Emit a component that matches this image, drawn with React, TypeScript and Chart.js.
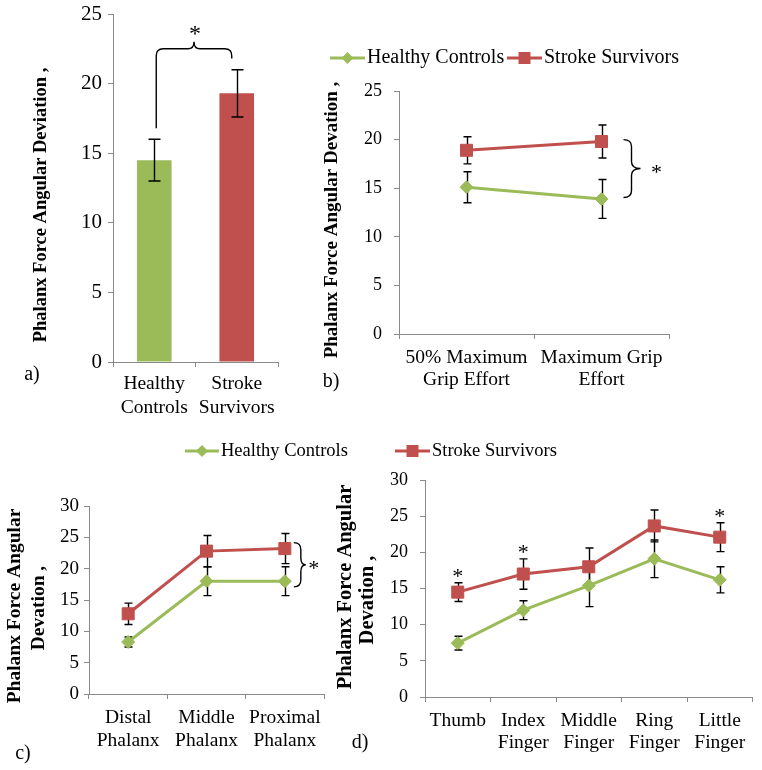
import React, { useEffect, useRef } from "react";
import { Chart, registerables } from "chart.js";
Chart.register(...registerables);

// ---------- data ----------
const barCategories = [["Healthy", "Controls"], ["Stroke", "Survivors"]];
const barValues = [14.5, 19.3];
const barErrors = [1.5, 1.7];

const gripCategories = [["50% Maximum", "Grip Effort"], ["Maximum Grip", "Effort"]];
const gripHealthy = [15.1, 13.9];
const gripHealthyErr = [1.6, 2.0];
const gripStroke = [18.9, 19.8];
const gripStrokeErr = [1.4, 1.7];

const phalanxCategories = [["Distal", "Phalanx"], ["Middle", "Phalanx"], ["Proximal", "Phalanx"]];
const phalanxHealthy = [8.3, 18.0, 18.0];
const phalanxHealthyErr = [0.8, 2.3, 2.3];
const phalanxStroke = [12.8, 22.8, 23.2];
const phalanxStrokeErr = [1.7, 2.5, 2.4];

const fingerCategories = [["Thumb"], ["Index", "Finger"], ["Middle", "Finger"], ["Ring", "Finger"], ["Little", "Finger"]];
const fingerHealthy = [7.45, 12.0, 15.4, 19.1, 16.2];
const fingerHealthyErr = [0.95, 1.3, 2.9, 2.6, 1.8];
const fingerStroke = [14.5, 17.0, 18.0, 23.65, 22.1];
const fingerStrokeErr = [1.3, 2.1, 2.6, 2.2, 2.0];
const fingerSignificant = [true, true, false, false, true];

const seriesNames = ["Healthy Controls", "Stroke Survivors"];
const titleA = "Phalanx Force Angular Deviation ,";
const titleB = "Phalanx Force Angular Devation ,";
const titleCD = ["Phalanx Force Angular", "Devation ,"];

// ---------- style ----------
const GREEN = "#9BBB59";
const RED = "#C0504D";
const AXIS = "#8A8A8A";
const SERIF = "'Liberation Serif', 'Times New Roman', serif";
const W = 762;
const H = 770;

type Geo = { left: number; right: number; top: number; bottom: number; yW: number; xH: number };

function padFor(g: Geo) {
  return { left: g.left - g.yW, right: W - g.right, top: g.top, bottom: H - g.bottom - g.xH };
}

function scalesFor(g: Geo, yMax: number, tickSize: number, tickPad: number, catSize: number, catLine: number, catPad: number) {
  return {
    x: {
      type: "category",
      offset: true,
      grid: { offset: true, drawOnChartArea: false, drawTicks: true, tickLength: 5, color: AXIS, lineWidth: 1 },
      border: { color: AXIS, width: 1 },
      ticks: {
        font: { family: SERIF, size: catSize, lineHeight: catLine },
        color: "#000",
        padding: catPad,
        maxRotation: 0,
        minRotation: 0,
        autoSkip: false,
      },
      afterFit: (s: any) => {
        s.height = g.xH;
        s.paddingLeft = 0;
        s.paddingRight = 0;
      },
    },
    y: {
      min: 0,
      max: yMax,
      ticks: { stepSize: 5, font: { family: SERIF, size: tickSize }, color: "#000", padding: tickPad },
      grid: { drawOnChartArea: false, drawTicks: true, tickLength: 5, color: AXIS, lineWidth: 1 },
      border: { color: AXIS, width: 1 },
      afterFit: (s: any) => {
        s.width = g.yW;
        s.paddingTop = 0;
        s.paddingBottom = 0;
      },
    },
  };
}

function errorBarPlugin(errs: number[][], cap: number, before: boolean) {
  const draw = (chart: any) => {
    const ctx = chart.ctx;
    const ys = chart.scales.y;
    ctx.save();
    ctx.strokeStyle = "#000";
    ctx.lineWidth = 1.4;
    errs.forEach((arr, di) => {
      const meta = chart.getDatasetMeta(di);
      const vals = chart.data.datasets[di].data;
      meta.data.forEach((el: any, i: number) => {
        const v = vals[i];
        const e = arr[i];
        const x = Math.round(el.x) + 0.5;
        const yt = ys.getPixelForValue(v + e);
        const yb = ys.getPixelForValue(v - e);
        ctx.beginPath();
        ctx.moveTo(x, yt);
        ctx.lineTo(x, yb);
        ctx.moveTo(x - cap, yt);
        ctx.lineTo(x + cap, yt);
        ctx.moveTo(x - cap, yb);
        ctx.lineTo(x + cap, yb);
        ctx.stroke();
      });
    });
    ctx.restore();
  };
  return before ? { id: "errbars", beforeDatasetsDraw: draw } : { id: "errbars", afterDatasetsDraw: draw };
}

function vText(ctx: any, text: string, x: number, y: number, size: number) {
  ctx.save();
  ctx.translate(x, y);
  ctx.rotate(-Math.PI / 2);
  ctx.font = `bold ${size}px ${SERIF}`;
  ctx.fillStyle = "#000";
  ctx.textAlign = "center";
  ctx.textBaseline = "middle";
  ctx.fillText(text, 0, 0);
  ctx.restore();
}

function plainText(ctx: any, text: string, x: number, y: number, size: number, align = "center") {
  ctx.save();
  ctx.font = `${size}px ${SERIF}`;
  ctx.fillStyle = "#000";
  ctx.textAlign = align;
  ctx.textBaseline = "middle";
  ctx.fillText(text, x, y);
  ctx.restore();
}

function star(ctx: any, x: number, cy: number, size: number) {
  ctx.save();
  ctx.font = `${size}px ${SERIF}`;
  ctx.fillStyle = "#000";
  ctx.textAlign = "center";
  ctx.textBaseline = "alphabetic";
  ctx.fillText("*", x, cy + 0.47 * size);
  ctx.restore();
}

function legendItem(ctx: any, x1: number, x2: number, y: number, color: string, square: boolean, text: string, size: number) {
  ctx.save();
  ctx.strokeStyle = color;
  ctx.lineWidth = 3;
  ctx.beginPath();
  ctx.moveTo(x1, y);
  ctx.lineTo(x2, y);
  ctx.stroke();
  const m = (x1 + x2) / 2;
  ctx.fillStyle = color;
  ctx.beginPath();
  if (square) {
    ctx.rect(m - 6, y - 6, 12, 12);
  } else {
    ctx.moveTo(m - 6, y);
    ctx.lineTo(m, y - 6);
    ctx.lineTo(m + 6, y);
    ctx.lineTo(m, y + 6);
    ctx.closePath();
  }
  ctx.fill();
  ctx.restore();
  plainText(ctx, text, x2 + 2, y, size, "left");
}

function hBrace(ctx: any, x1: number, x2: number, yTop: number, tip: number, lb: number, rb: number) {
  const r = 7;
  const m = (x1 + x2) / 2;
  ctx.save();
  ctx.strokeStyle = "#000";
  ctx.lineWidth = 1.4;
  ctx.beginPath();
  ctx.moveTo(x1, lb);
  ctx.lineTo(x1, yTop + r);
  ctx.quadraticCurveTo(x1, yTop, x1 + r, yTop);
  ctx.lineTo(m - 6, yTop);
  ctx.quadraticCurveTo(m, yTop, m, tip);
  ctx.quadraticCurveTo(m, yTop, m + 6, yTop);
  ctx.lineTo(x2 - r, yTop);
  ctx.quadraticCurveTo(x2, yTop, x2, yTop + r);
  ctx.lineTo(x2, rb);
  ctx.stroke();
  ctx.restore();
}

function vBrace(ctx: any, xl: number, xm: number, xt: number, y1: number, y2: number) {
  const mid = (y1 + y2) / 2;
  const r = 7;
  ctx.save();
  ctx.strokeStyle = "#000";
  ctx.lineWidth = 1.4;
  ctx.beginPath();
  ctx.moveTo(xl, y1);
  ctx.quadraticCurveTo(xm, y1, xm, y1 + r);
  ctx.lineTo(xm, mid - r);
  ctx.quadraticCurveTo(xm, mid, xt, mid);
  ctx.quadraticCurveTo(xm, mid, xm, mid + r);
  ctx.lineTo(xm, y2 - r);
  ctx.quadraticCurveTo(xm, y2, xl, y2);
  ctx.stroke();
  ctx.restore();
}

function lineDatasets(h: number[], s: number[]) {
  return [
    {
      label: seriesNames[0],
      data: h,
      borderColor: GREEN,
      backgroundColor: GREEN,
      borderWidth: 3,
      pointStyle: "rectRot",
      pointRadius: 6.5,
      pointHoverRadius: 6.5,
      pointBackgroundColor: GREEN,
      pointBorderColor: GREEN,
      pointBorderWidth: 1,
      tension: 0,
      fill: false,
    },
    {
      label: seriesNames[1],
      data: s,
      borderColor: RED,
      backgroundColor: RED,
      borderWidth: 3,
      pointStyle: "rect",
      pointRadius: 8.5,
      pointHoverRadius: 8.5,
      pointBackgroundColor: RED,
      pointBorderColor: RED,
      pointBorderWidth: 1,
      tension: 0,
      fill: false,
    },
  ];
}

const baseOptions = {
  responsive: false,
  animation: false,
  devicePixelRatio: 1,
  events: [],
};

// ---------- panel builders ----------
const geoA: Geo = { left: 113, right: 278, top: 14, bottom: 362, yW: 60, xH: 60 };
const geoB: Geo = { left: 399, right: 669, top: 91, bottom: 334, yW: 60, xH: 60 };
const geoC: Geo = { left: 89, right: 324, top: 506, bottom: 694, yW: 55, xH: 60 };
const geoD: Geo = { left: 425, right: 754, top: 480, bottom: 697, yW: 55, xH: 60 };

function buildA(canvas: HTMLCanvasElement) {
  const ann = {
    id: "annA",
    afterDraw(chart: any) {
      const ctx = chart.ctx;
      const xs = chart.scales.x;
      const ys = chart.scales.y;
      vText(ctx, titleA, 41, 205, 18.5);
      plainText(ctx, "a)", 32, 375, 20);
      const x1 = xs.getPixelForValue(0) + 2;
      const x2 = xs.getPixelForValue(1) - 5;
      const yTop = ys.getPixelForValue(22.5);
      hBrace(ctx, x1, x2, yTop, yTop - 7, ys.getPixelForValue(16.8), ys.getPixelForValue(21.8));
      star(ctx, (x1 + x2) / 2 + 1, ys.getPixelForValue(23.85), 24);
    },
  };
  return new Chart(canvas, {
    type: "bar",
    data: {
      labels: barCategories as any,
      datasets: [
        {
          data: barValues,
          backgroundColor: [GREEN, RED],
          borderWidth: 0,
          barPercentage: 0.42,
          categoryPercentage: 1,
        },
      ],
    },
    options: {
      ...baseOptions,
      layout: { padding: padFor(geoA) },
      plugins: { legend: { display: false }, tooltip: { enabled: false } },
      scales: scalesFor(geoA, 25, 21, 6, 19.5, 1.23, 5) as any,
    } as any,
    plugins: [errorBarPlugin([barErrors], 6, false), ann],
  });
}

function buildB(canvas: HTMLCanvasElement) {
  const ann = {
    id: "annB",
    afterDraw(chart: any) {
      const ctx = chart.ctx;
      const xs = chart.scales.x;
      const ys = chart.scales.y;
      vText(ctx, titleB, 332, 220, 19);
      plainText(ctx, "b)", 331, 382, 20);
      legendItem(ctx, 330, 365, 58, GREEN, false, seriesNames[0], 20);
      legendItem(ctx, 507, 542, 58, RED, true, seriesNames[1], 20);
      const xl = xs.getPixelForValue(1) + 22;
      const y1 = ys.getPixelForValue(20.0);
      const y2 = ys.getPixelForValue(14.05);
      vBrace(ctx, xl, xl + 8, xl + 17, y1, y2);
      star(ctx, xl + 33, (y1 + y2) / 2, 22);
    },
  };
  return new Chart(canvas, {
    type: "line",
    data: { labels: gripCategories as any, datasets: lineDatasets(gripHealthy, gripStroke) as any },
    options: {
      ...baseOptions,
      layout: { padding: padFor(geoB) },
      plugins: { legend: { display: false }, tooltip: { enabled: false } },
      scales: scalesFor(geoB, 25, 18, 12, 19.5, 1.13, 8) as any,
    } as any,
    plugins: [errorBarPlugin([gripHealthyErr, gripStrokeErr], 4, true), ann],
  });
}

function buildC(canvas: HTMLCanvasElement) {
  const ann = {
    id: "annC",
    afterDraw(chart: any) {
      const ctx = chart.ctx;
      const xs = chart.scales.x;
      const ys = chart.scales.y;
      vText(ctx, titleCD[0], 15, 606, 19.5);
      vText(ctx, titleCD[1], 39, 608, 19.5);
      plainText(ctx, "c)", 23, 754, 20);
      legendItem(ctx, 185, 219, 451, GREEN, false, seriesNames[0], 18.5);
      legendItem(ctx, 395, 430, 451, RED, true, seriesNames[1], 18.5);
      const xl = xs.getPixelForValue(2) + 9;
      const y1 = ys.getPixelForValue(24.15);
      const y2 = ys.getPixelForValue(17.1);
      vBrace(ctx, xl, xl + 7, xl + 12, y1, y2);
      star(ctx, xl + 20, (y1 + y2) / 2, 22);
    },
  };
  return new Chart(canvas, {
    type: "line",
    data: { labels: phalanxCategories as any, datasets: lineDatasets(phalanxHealthy, phalanxStroke) as any },
    options: {
      ...baseOptions,
      layout: { padding: padFor(geoC) },
      plugins: { legend: { display: false }, tooltip: { enabled: false } },
      scales: scalesFor(geoC, 30, 19, 5, 19.5, 1.2, 7) as any,
    } as any,
    plugins: [errorBarPlugin([phalanxHealthyErr, phalanxStrokeErr], 4, true), ann],
  });
}

function buildD(canvas: HTMLCanvasElement) {
  const ann = {
    id: "annD",
    afterDraw(chart: any) {
      const ctx = chart.ctx;
      const xs = chart.scales.x;
      const ys = chart.scales.y;
      vText(ctx, titleCD[0], 346, 587, 20.5);
      vText(ctx, titleCD[1], 368, 600, 20.5);
      plainText(ctx, "d)", 360, 743, 20);
      fingerSignificant.forEach((sig, i) => {
        if (!sig) return;
        const top = ys.getPixelForValue(fingerStroke[i] + fingerStrokeErr[i]);
        star(ctx, xs.getPixelForValue(i), top - 10, 22);
      });
    },
  };
  return new Chart(canvas, {
    type: "line",
    data: { labels: fingerCategories as any, datasets: lineDatasets(fingerHealthy, fingerStroke) as any },
    options: {
      ...baseOptions,
      layout: { padding: padFor(geoD) },
      plugins: { legend: { display: false }, tooltip: { enabled: false } },
      scales: scalesFor(geoD, 30, 18, 12, 19.5, 1.13, 8) as any,
    } as any,
    plugins: [errorBarPlugin([fingerHealthyErr, fingerStrokeErr], 4, true), ann],
  });
}

function Panel({ build }: { build: (c: HTMLCanvasElement) => Chart }) {
  const ref = useRef<HTMLCanvasElement>(null);
  useEffect(() => {
    const ch = build(ref.current!);
    return () => ch.destroy();
  }, [build]);
  return <canvas ref={ref} width={W} height={H} style={{ position: "absolute", left: 0, top: 0 }} />;
}

export default function App() {
  return (
    <div style={{ position: "absolute", left: 0, top: 0, width: W, height: H, background: "#fff", overflow: "hidden" }}>
      <Panel build={buildA} />
      <Panel build={buildB} />
      <Panel build={buildC} />
      <Panel build={buildD} />
    </div>
  );
}
